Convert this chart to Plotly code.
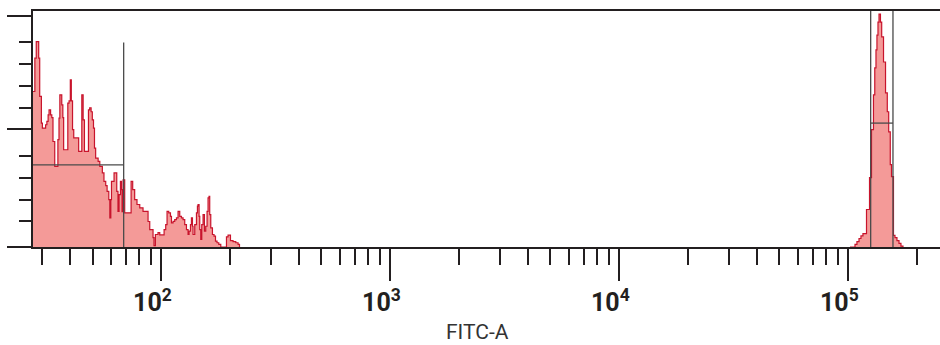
import plotly.graph_objects as go

# ---- histogram data (FITC-A value where each level starts, event count level) ----
fitc_low = [25, 28.0, 28.4, 29.1, 29.4, 29.9, 30.2, 31.2, 31.6, 32.0,
            32.3, 32.8, 33.2, 33.6, 34.2, 35.3, 35.7, 36.0, 36.7, 37.1,
            37.4, 39.0, 39.5, 40.0, 40.4, 40.9, 41.4, 43.5, 44.9, 45.5,
            46.1, 48.0, 48.6, 49.3, 49.9, 50.5, 51.0, 51.6, 52.9, 53.8,
            55.2, 56.1, 57.1, 57.9, 58.9, 59.5, 60.1, 60.5, 62.1, 63.8,
            64.6, 65.3, 66.2, 66.9, 67.3, 68.0, 69.1, 73.7, 74.9, 76.4,
            78.2, 80.4, 83.1, 87.4, 88.9, 91.9, 92.8, 94.1, 96.6, 98.3,
            102.7, 104.4, 105.8, 107.6, 109.5, 110.6, 112.4, 114.3, 116.3, 118.2,
            120.2, 122.3, 124.3, 126.4, 128.6, 130.7, 132.0, 133.9, 135.2, 136.6,
            137.4, 139.8, 142.2, 143.6, 144.5, 146.0, 147.0, 148.5, 150.0, 152.0,
            154.1, 156.1, 158.2, 159.8, 161.4, 162.5, 164.2, 167.0, 169.7, 172.2,
            174.9, 178.0, 181.6, 192.3, 195.4, 200.2, 205.5, 211.2, 216.1, 219.2]
count_low = [65.9, 80.0, 87.0, 80.0, 63.8, 52.5, 50.4, 51.8, 53.2, 56.0,
             58.1, 56.0, 54.8, 44.7, 34.2, 45.5, 54.6, 64.5, 60.2, 54.8,
             41.2, 61.0, 61.9, 70.8, 61.9, 49.7, 46.2, 40.5, 64.5, 53.9,
             40.5, 58.1, 59.0, 57.3, 53.9, 50.4, 41.9, 37.7, 36.3, 34.2,
             31.4, 27.8, 26.0, 23.6, 20.1, 12.3, 20.1, 27.8, 31.4, 23.6,
             15.1, 22.2, 27.8, 24.3, 15.0, 28.5, 14.5, 27.8, 24.3, 20.1,
             18.0, 16.6, 15.1, 10.8, 7.4, 4.0, 0.6, 5.3, 6.1, 5.1,
             7.4, 9.5, 15.1, 14.5, 13.0, 10.2, 10.9, 11.6, 12.3, 15.1,
             13.0, 12.3, 11.6, 9.5, 7.4, 5.3, 6.7, 9.5, 12.3, 8.8,
             5.3, 9.5, 14.5, 17.3, 18.0, 13.0, 7.4, 3.2, 9.5, 13.7,
             6.7, 8.8, 15.1, 20.8, 21.5, 13.7, 8.1, 5.3, 4.6, 2.5,
             1.8, 1.1, 0, 4.3, 5.0, 2.7, 2.3, 1.8, 1.1, 0]

fitc_high = [101600, 106900, 109000, 111300, 113500, 115800, 120000, 123700, 126200, 128700,
             130400, 132000, 133300, 134700, 136100, 138100, 139800, 142400, 145300, 147900,
             150000, 152400, 154300, 157400, 159800, 163000, 166400, 169700, 173200]
count_high = [0, 1.1, 2.3, 3.6, 4.7, 5.7, 15.9, 29.4, 49.7, 64.5,
              75.9, 83.5, 89.8, 95.3, 98.7, 95.3, 89.0, 78.4, 65.3, 57.3,
              48.8, 34.9, 29.8, 4.9, 4.0, 2.7, 1.5, 0.4, 0]

assert len(fitc_low) == len(count_low)
assert len(fitc_high) == len(count_high)

# ---- gates (markers) ----
gate1_x = [20, 68.4]
gate1_bar = 34.8
gate1_top = 86.6
gate2_x = [125150, 156600]
gate2_bar = 52.5
gate2_top = 110

# ---- axis ticks ----
x_major = [100, 1000, 10000, 100000]
x_labels = ["10<sup>2</sup>", "10<sup>3</sup>", "10<sup>4</sup>", "10<sup>5</sup>"]
x_minor = [m * 10 ** k for k in range(1, 6) for m in range(2, 10)]
y_major = [0, 50.1, 98.0]
y_minor = [11.2, 20.1, 29.4, 38.7, 59.0, 68.3, 77.6, 87.0]

RED = "#c8142c"
FILL = "#f49a98"
GATE = "#4a4a4a"
INK = "#231f20"
FONT = "Roboto, Liberation Sans, sans-serif"

fig = go.Figure()
for xs, ys in ((fitc_low, count_low), (fitc_high, count_high)):
    fig.add_trace(go.Scatter(
        x=xs, y=ys, mode="lines",
        line=dict(shape="hv", color=RED, width=1.2),
        fill="tozeroy", fillcolor=FILL, hoverinfo="skip", showlegend=False))

g1x = [gate1_x[1], gate1_x[1], None, gate1_x[0], gate1_x[1]]
g1y = [0, gate1_top, None, gate1_bar, gate1_bar]
g2x = [gate2_x[0], gate2_x[0], None, gate2_x[1], gate2_x[1], None, gate2_x[0], gate2_x[1]]
g2y = [0, gate2_top, None, 0, gate2_top, None, gate2_bar, gate2_bar]
for gx, gy in ((g1x, g1y), (g2x, g2y)):
    fig.add_trace(go.Scatter(x=gx, y=gy, mode="lines",
                             line=dict(color=GATE, width=1.3),
                             hoverinfo="skip", showlegend=False))

fig.update_layout(
    width=940, height=345,
    margin=dict(l=33, r=0, t=11, b=98, autoexpand=False),
    paper_bgcolor="white", plot_bgcolor="white",
    showlegend=False,
    xaxis=dict(
        type="log", range=[1.43906, 5.40017], automargin=False,
        showline=True, linewidth=2, linecolor=INK, mirror=True,
        showgrid=False, zeroline=False,
        ticks="outside", tickmode="array", tickvals=x_major, ticktext=x_labels,
        ticklen=32, tickwidth=2, tickcolor=INK,
        minor=dict(tickmode="array", tickvals=x_minor, ticks="outside",
                   ticklen=16, tickwidth=2, tickcolor=INK, showgrid=False),
        tickfont=dict(family=FONT, size=25, color=INK, weight="bold"),
        ticklabelshift=-9, ticklabelstandoff=0,
    ),
    yaxis=dict(
        range=[0, 100], automargin=False,
        showline=True, linewidth=2, linecolor=INK,
        showgrid=False, zeroline=False, showticklabels=False,
        ticks="outside", tickmode="array", tickvals=y_major,
        ticklen=24, tickwidth=2, tickcolor=INK,
        minor=dict(tickmode="array", tickvals=y_minor, ticks="outside",
                   ticklen=12, tickwidth=2, tickcolor=INK, showgrid=False),
    ),
    annotations=[dict(
        text="FITC-A", xref="paper", yref="paper",
        x=(477.5 - 33) / 907, y=0, xanchor="center", yanchor="middle",
        yshift=-85, showarrow=False,
        font=dict(family=FONT, size=21, color="#333333"),
    )],
)

fig.write_html("out.html", config={"displayModeBar": False},
               post_script="document.body.style.margin='0px';document.body.style.overflow='hidden';")
